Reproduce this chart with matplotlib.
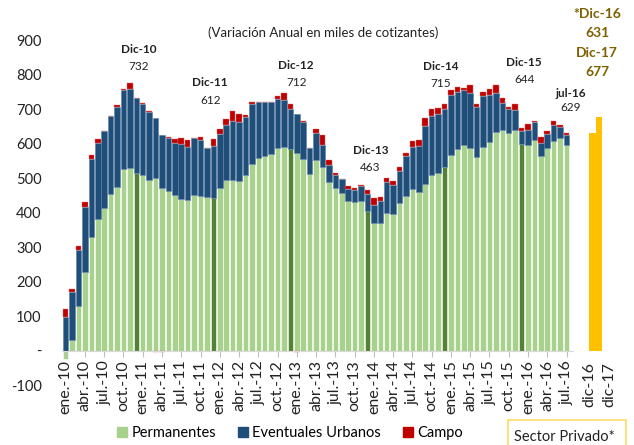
import numpy as np
import matplotlib
matplotlib.use("Agg")
from matplotlib import pyplot as plt
from matplotlib.patches import Patch, Rectangle

plt.rcParams['font.family'] = ['Lato', 'DejaVu Sans']

# monthly data ene-10 .. jul-16 (variacion anual, miles de cotizantes)
permanentes = [-25, 30, 130, 228, 328, 380, 414, 454, 473, 527, 529, 514,
               508, 495, 499, 470, 463, 452, 440, 435, 452, 449, 444, 442,
               472, 494, 494, 491, 509, 541, 557, 565, 570, 587, 591, 583,
               573, 554, 512, 551, 532, 489, 470, 458, 432, 431, 432, 405,
               371, 370, 399, 397, 429, 449, 467, 459, 484, 508, 516, 533,
               568, 585, 595, 588, 560, 589, 604, 633, 639, 632, 640, 600,
               597, 609, 565, 588, 606, 616, 596]
eventuales = [98, 139, 160, 187, 226, 222, 221, 225, 232, 228, 230, 218,
              207, 197, 176, 154, 152, 150, 159, 156, 163, 160, 142, 150,
              156, 160, 171, 172, 169, 173, 164, 156, 151, 143, 135, 118,
              114, 107, 74, 80, 64, 48, 39, 38, 35, 33, 46, 49,
              52, 64, 89, 82, 92, 114, 123, 134, 166, 171, 170, 167,
              174, 165, 160, 159, 146, 148, 137, 114, 79, 68, 57, 36,
              41, 52, 37, 40, 47, 32, 30]
campo = [21, 10, 12, 16, 14, 10, 0, 0, 8, 3, 17, 1,
         2, 2, -4, -3, 5, 11, 16, 19, 2, 9, 1, 21,
         14, 17, 29, 24, 5, 5, 0, 0, 0, 9, 21, 13,
         -4, 4, 0, 12, 29, 15, 5, 2, 9, 7, 1, 10,
         18, 12, 13, 12, 11, 10, 17, 18, 23, 22, 17, 16,
         14, 13, 5, 22, 8, 12, 16, 24, 13, 6, 19, 10,
         18, 4, 16, 8, 11, 6, 5]

meses = ['ene.', 'abr.', 'jul.', 'oct.']
anios = ['10', '11', '12', '13', '14', '15', '16']

proy_labels = ['dic-16', 'dic-17']
proy_values = [631, 677]

# annotated points: (label, value)
notas_lab = ['Dic-10', 'Dic-11', 'Dic-12', 'Dic-13', 'Dic-14', 'Dic-15', 'jul-16']
notas_val = ['732', '612', '712', '463', '715', '644', '629']
# where the text sits (month position, label height, number height)
notas_x = [11.4, 22.5, 35.9, 47.5, 58.4, 71.4, 78.7]
notas_y_lab = [872, 776, 826, 580, 824, 834, 744]
notas_y_val = [824, 724, 777, 531, 775, 785, 705]

verde = '#A9D18E'
verde_osc = '#548235'
azul = '#1F4E79'
rojo = '#C00000'
amarillo = '#FFC000'
oro = '#7F6000'
texto = '#222222'

perm = np.array(permanentes, dtype=float)
even = np.array(eventuales, dtype=float)
cam = np.array(campo, dtype=float)
x = np.arange(len(perm))

fig = plt.figure(figsize=(6.34, 4.45), dpi=100)
ax = fig.add_axes([0.0965, 0.1348, 0.873, 0.7752])

for s in ['left', 'top', 'right']:
    ax.spines[s].set_visible(False)
ax.spines['bottom'].set_position(('data', 0))
ax.spines['bottom'].set_bounds(-0.6, 79.0)
ax.spines['bottom'].set_color('#d9d9d9')

colores = [verde_osc if (i % 12) == 11 else verde for i in x]
w = 0.86
ax.bar(x, perm, width=w, color=colores, edgecolor='white', linewidth=0.4)
base_azul = np.maximum(perm, 0)
ax.bar(x, even, width=w, bottom=base_azul, color=azul, edgecolor='#5b7fa6', linewidth=0.4)
base_rojo = np.where(cam >= 0, base_azul + even, np.minimum(perm, 0))
ax.bar(x, cam, width=w, bottom=base_rojo, color=rojo, edgecolor='#e07070', linewidth=0.3)

# projections
xp = [82.05, 83.07]
ax.bar(xp, proy_values, width=1.02, color=amarillo, linewidth=0)

ax.set_ylim(-100, 900)
ax.set_xlim(-0.7, 85.5)
ax.set_yticks(range(-100, 1000, 100))
ax.set_yticklabels(['-100', '-'] + [str(v) for v in range(100, 1000, 100)])
ax.tick_params(axis='y', length=0, pad=14, labelsize=10.5, labelcolor=texto)

ticks = list(range(0, 79, 3))
labels = [meses[(t // 3) % 4] + '-' + anios[t // 12] for t in ticks]
ax.set_xticks(ticks)
ax.set_xticklabels(labels)
ax.set_xticks([81.6, 84.7], minor=True)
ax.set_xticklabels(proy_labels, minor=True)
ax.tick_params(axis='x', which='major', length=4, color='#bfbfbf', pad=3, labelsize=11.5,
               labelcolor=texto, labelrotation=90)
ax.tick_params(axis='x', which='minor', length=0, pad=8, labelsize=11.5, labelcolor=texto,
               labelrotation=90)

for lab, val, xi, yl, yv in zip(notas_lab, notas_val, notas_x, notas_y_lab, notas_y_val):
    ax.text(xi, yl, lab, ha='center', va='center', fontsize=8.5, fontweight='bold', color=texto)
    ax.text(xi, yv, val, ha='center', va='center', fontsize=8.5, color=texto)

fig.text(597 / 634, 1 - 14 / 445, '*Dic-16', ha='center', va='center', fontsize=10, fontweight='bold', color=oro)
fig.text(597 / 634, 1 - 33 / 445, '631', ha='center', va='center', fontsize=10, fontweight='bold', color=oro)
fig.text(597 / 634, 1 - 53 / 445, 'Dic-17', ha='center', va='center', fontsize=10, fontweight='bold', color=oro)
fig.text(597 / 634, 1 - 72 / 445, '677', ha='center', va='center', fontsize=10, fontweight='bold', color=oro)

fig.text(323 / 634, 1 - 33 / 445, '(Variación Anual en miles de cotizantes)', ha='center', va='center',
         fontsize=9.5, color=texto)

handles = [Patch(color=verde), Patch(color=azul), Patch(color=rojo)]
fig.legend(handles, ['Permanentes', 'Eventuales Urbanos', 'Campo'], loc='center',
           bbox_to_anchor=(290 / 634, 1 - 433 / 445), ncol=3, frameon=False, fontsize=10.5,
           handlelength=0.7, handleheight=0.7, handletextpad=0.3, columnspacing=1.5)

fig.patches.append(Rectangle((508 / 634, -0.02), (626 - 508) / 634, 0.02 + (445 - 420) / 445,
                             transform=fig.transFigure, facecolor='white', edgecolor='#FFD966',
                             linewidth=1.2))
fig.text(514 / 634, 1 - 437 / 445, 'Sector Privado*', ha='left', va='center', fontsize=10.5, color=texto)

fig.savefig('out.png', dpi=100)
